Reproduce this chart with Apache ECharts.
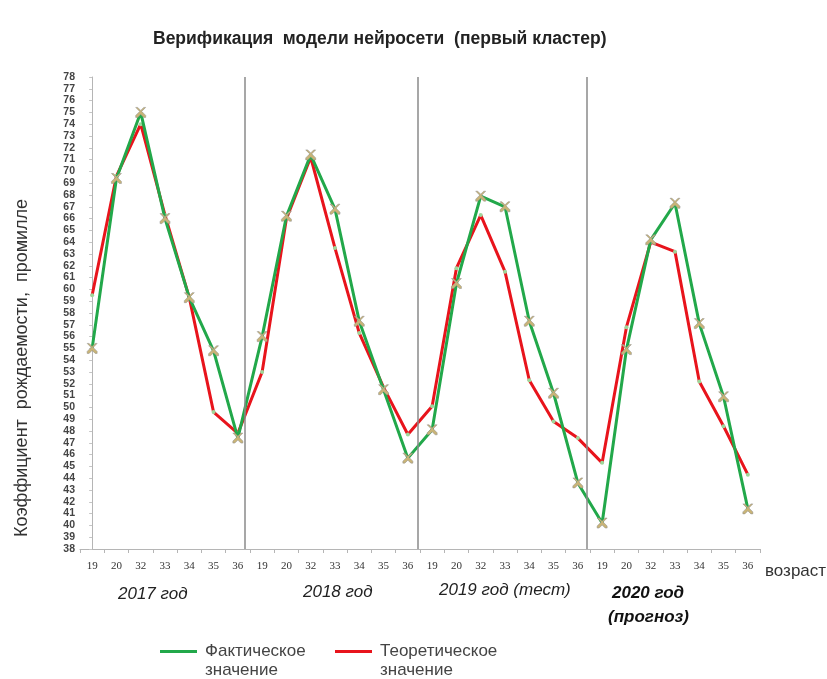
<!DOCTYPE html>
<html>
<head>
<meta charset="utf-8">
<script src="https://cdn.jsdelivr.net/npm/echarts@6/dist/echarts.min.js"></script>
<style>
  html, body { margin: 0; padding: 0; background: #fff; }
  #chart { width: 827px; height: 679px; }
</style>
</head>
<body>
<div id="chart"></div>
<script>
// Ages shown along the x axis, repeated once per year block
const ages = ['19', '20', '32', '33', '34', '35', '36'];
const years = ['2017', '2018', '2019', '2020'];

// Fertility coefficient, per mille: observed values
const actualValues = [
  55.0, 69.4, 75.0, 66.0, 59.3, 54.8, 47.4,
  56.0, 66.2, 71.4, 66.8, 57.3, 51.5, 45.7,
  48.1, 60.5, 67.9, 67.0, 57.3, 51.2, 43.6,
  40.2, 54.9, 64.2, 67.3, 57.1, 50.9, 41.4
];

// Fertility coefficient, per mille: neural network model output
const modelValues = [
  59.5, 69.6, 74.0, 66.3, 59.3, 49.6, 47.8,
  53.0, 66.0, 71.2, 63.5, 56.3, 51.7, 47.7,
  50.1, 61.8, 66.3, 61.5, 52.3, 48.8, 47.4,
  45.3, 56.8, 64.0, 63.2, 52.2, 48.4, 44.3
];

const categories = [];
years.forEach(() => ages.forEach(a => categories.push(a)));

const GREEN = '#22a84a';
const RED = '#e8141c';
const SANS = 'Liberation Sans, Arial, sans-serif';
const crossPath = 'path://M0,0 L2,0 L5,3 L8,0 L10,0 L6,4 L10,8 L10,10 L8,10 L5,7 L2,10 L0,10 L0,8 L4,4 L0,0 Z';

const chart = echarts.init(document.getElementById('chart'), null, { renderer: 'canvas' });

const italic = (text, x, y, bold) => ({
  type: 'text', x: x, y: y,
  style: {
    text: text, fontFamily: SANS, fontStyle: 'italic',
    fontWeight: bold ? 'bold' : 'normal', fontSize: 17, fill: bold ? '#111' : '#222'
  }
});

const legendItem = (label, color, x) => ([
  { type: 'rect', shape: { x: x, y: 650, width: 37, height: 3 }, style: { fill: color } },
  { type: 'text', x: x + 45, y: 642, style: { text: label, fontFamily: SANS, fontSize: 17, fill: '#444', lineHeight: 19 } }
]);

const option = {
  backgroundColor: '#ffffff',
  animation: false,
  title: {
    text: 'Верификация  модели нейросети  (первый кластер)',
    left: 148,
    top: 25,
    textStyle: { fontFamily: SANS, fontWeight: 'bold', fontSize: 17.5, color: '#222' }
  },
  grid: { left: 80, right: 67, top: 77, bottom: 130 },
  xAxis: [
    {
      type: 'category',
      data: categories,
      boundaryGap: true,
      axisLine: { lineStyle: { color: '#b5b5b5', width: 1 } },
      axisTick: { show: true, alignWithLabel: false, length: 4, lineStyle: { color: '#b5b5b5' } },
      axisLabel: { interval: 0, fontFamily: 'Liberation Serif, serif', fontSize: 11, color: '#333', margin: 12 },
      splitLine: { show: false }
    },
    {
      type: 'value',
      min: -0.5,
      max: 27.5,
      show: false
    }
  ],
  yAxis: {
    type: 'value',
    min: 38,
    max: 78,
    interval: 1,
    axisLine: { show: true, lineStyle: { color: '#b5b5b5' } },
    axisTick: { show: true, length: 3, lineStyle: { color: '#c5c5c5' } },
    splitLine: { show: false },
    axisLabel: { fontFamily: 'Liberation Sans Narrow, Liberation Sans, Arial, sans-serif', fontSize: 10.5, fontWeight: 'bold', color: '#444', margin: 5 }
  },
  series: [
    {
      // year separators
      type: 'line',
      xAxisIndex: 1,
      data: [],
      silent: true,
      markLine: {
        symbol: 'none',
        silent: true,
        label: { show: false },
        lineStyle: { color: '#8a8a8a', width: 1.5, type: 'solid' },
        data: [{ xAxis: 6.27 }, { xAxis: 13.4 }, { xAxis: 20.35 }]
      }
    },
    {
      name: 'Теоретическое значение',
      type: 'line',
      data: modelValues,
      lineStyle: { color: RED, width: 3 },
      symbol: 'circle',
      symbolSize: 4,
      itemStyle: { color: '#9ed79a' },
      z: 3
    },
    {
      name: 'Фактическое значение',
      type: 'line',
      data: actualValues,
      lineStyle: { color: GREEN, width: 3 },
      symbol: crossPath,
      symbolSize: 10,
      itemStyle: { color: '#c9b477', borderColor: '#8c8c8c', borderWidth: 0.5 },
      z: 4
    }
  ],
  graphic: [
    {
      type: 'text',
      x: 22, y: 368,
      rotation: Math.PI / 2,
      style: {
        text: 'Коэффициент  рождаемости,  промилле',
        fontFamily: SANS, fontSize: 18, fill: '#333',
        align: 'center', verticalAlign: 'middle'
      }
    },
    { type: 'text', x: 765, y: 563, style: { text: 'возраст', fontFamily: SANS, fontSize: 17, fill: '#333' } },
    italic('2017 год', 118, 586, false),
    italic('2018 год', 303, 584, false),
    italic('2019 год (тест)', 439, 582, false),
    italic('2020 год', 612, 585, true),
    italic('(прогноз)', 608, 609, true),
    ...legendItem('Фактическое\nзначение', GREEN, 160),
    ...legendItem('Теоретическое\nзначение', RED, 335)
  ]
};

chart.setOption(option);
</script>
</body>
</html>
